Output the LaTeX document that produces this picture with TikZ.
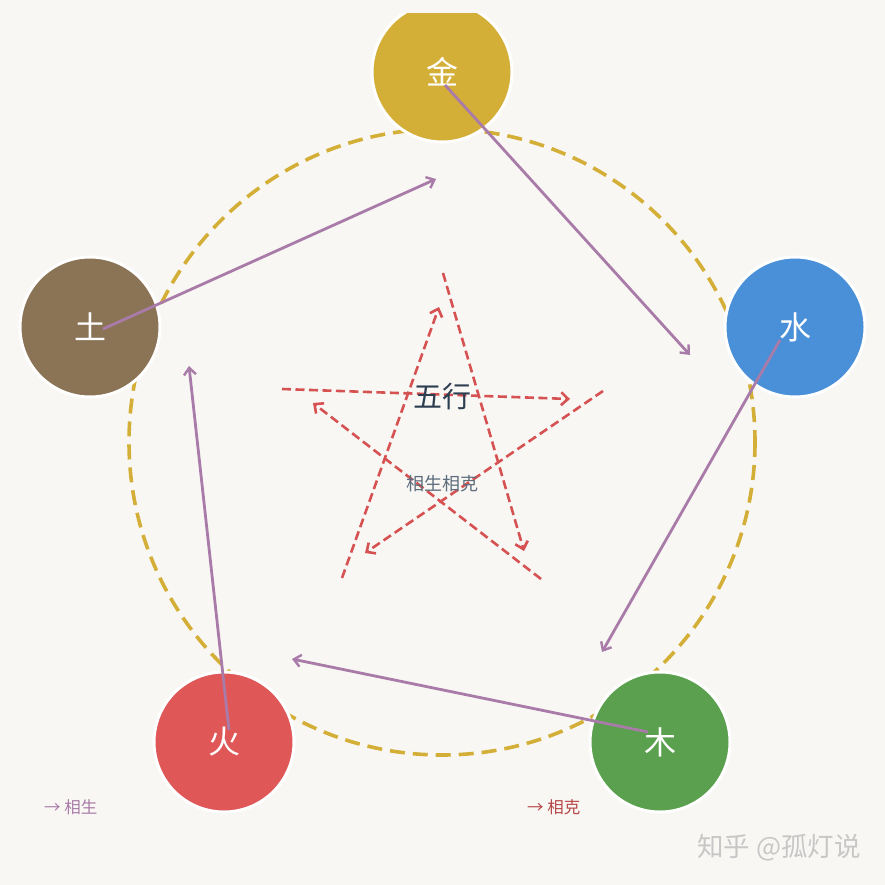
\documentclass[tikz,border=0pt]{standalone}
\usepackage{fontspec}
\setmainfont{Noto Sans CJK SC}
\usetikzlibrary{arrows.meta}
\definecolor{bg}{HTML}{F9F7F4}
\definecolor{cgold}{HTML}{D4AF37}
\definecolor{cblue}{HTML}{4A90D9}
\definecolor{cgreen}{HTML}{5BA04E}
\definecolor{cred}{HTML}{E05757}
\definecolor{cbrown}{HTML}{8B7355}
\definecolor{cpurple}{HTML}{A97BA8}
\definecolor{cdash}{HTML}{D65252}
\definecolor{cnavy}{HTML}{2C3E50}
\definecolor{cgray}{HTML}{5D6D7E}
\tikzset{
  element/.style={circle, minimum size=140pt, inner sep=0pt, draw=white, line width=3pt, text=white, font=\fontsize{32}{32}\selectfont},
  sheng/.style={draw=cpurple, line width=2.8pt, -{Straight Barb[length=7pt,width=12pt,line width=2.4pt]}},
  ke/.style={draw=cdash, line width=2.6pt, dash pattern=on 9pt off 4.5pt, -{Straight Barb[length=7pt,width=13pt,line width=2.6pt]}},
  ring/.style={draw=cgold, line width=3.6pt, dash pattern=on 15pt off 8pt},
}
\begin{document}
\begin{tikzpicture}[x=1pt,y=-1pt]
\fill[bg] (0,0) rectangle (885,885);
\useasboundingbox (0,0) rectangle (885,885);
\begin{scope}
\clip (0,14) rectangle (885,885);
\draw[ring] (442,442) circle (313);
\node[element, fill=cgold]  (jin)  at (442,72)  {金};
\node[element, fill=cblue]  (shui) at (795,327) {水};
\node[element, fill=cgreen] (mu)   at (660,742) {木};
\node[element, fill=cred]   (huo)  at (224,742) {火};
\node[element, fill=cbrown] (tu)   at (90,327)  {土};
\end{scope}
% sheng arrows
\coordinate (s1) at (445,85);   \coordinate (e1) at (690,355);
\coordinate (s2) at (780,340);  \coordinate (e2) at (602,652);
\coordinate (s3) at (648,732);  \coordinate (e3) at (292,659);
\coordinate (s4) at (229,730);  \coordinate (e4) at (189,366);
\coordinate (s5) at (103,329);  \coordinate (e5) at (436,179);
\draw[sheng] (s1) -- (e1);
\draw[sheng] (s2) -- (e2);
\draw[sheng] (s3) -- (e3);
\draw[sheng] (s4) -- (e4);
\draw[sheng] (s5) -- (e5);
% ke arrows
\coordinate (k1a) at (443,273); \coordinate (k1b) at (524,551);
\coordinate (k2a) at (603,391); \coordinate (k2b) at (365,553);
\coordinate (k3a) at (541,579); \coordinate (k3b) at (313,403);
\coordinate (k4a) at (342,578); \coordinate (k4b) at (439,307);
\coordinate (k5a) at (282,389); \coordinate (k5b) at (570,399);
\draw[ke] (k1a) -- (k1b);
\draw[ke] (k2a) -- (k2b);
\draw[ke] (k3a) -- (k3b);
\draw[ke] (k4a) -- (k4b);
\draw[ke] (k5a) -- (k5b);
% center texts
\node[text=cnavy, font=\fontsize{29}{29}\selectfont, inner sep=0pt] (title) at (442,397) {五行};
\node[text=cgray, font=\fontsize{18}{18}\selectfont, inner sep=0pt] (sub) at (442,484) {相生相克};
% legend
\node[text=cpurple, font=\fontsize{16.5}{16.5}\selectfont, anchor=west, inner sep=0pt] (lg1) at (44,807) {→ 相生};
\node[text=cdash!85!black, font=\fontsize{16.5}{16.5}\selectfont, anchor=west, inner sep=0pt] (lg2) at (527,807) {→ 相克};
% watermark
\node[text=black!22, font=\fontsize{26.5}{26.5}\selectfont, anchor=west, inner sep=0pt] (wm) at (697,848) {知乎 @孤灯说};
\end{tikzpicture}
\end{document}
